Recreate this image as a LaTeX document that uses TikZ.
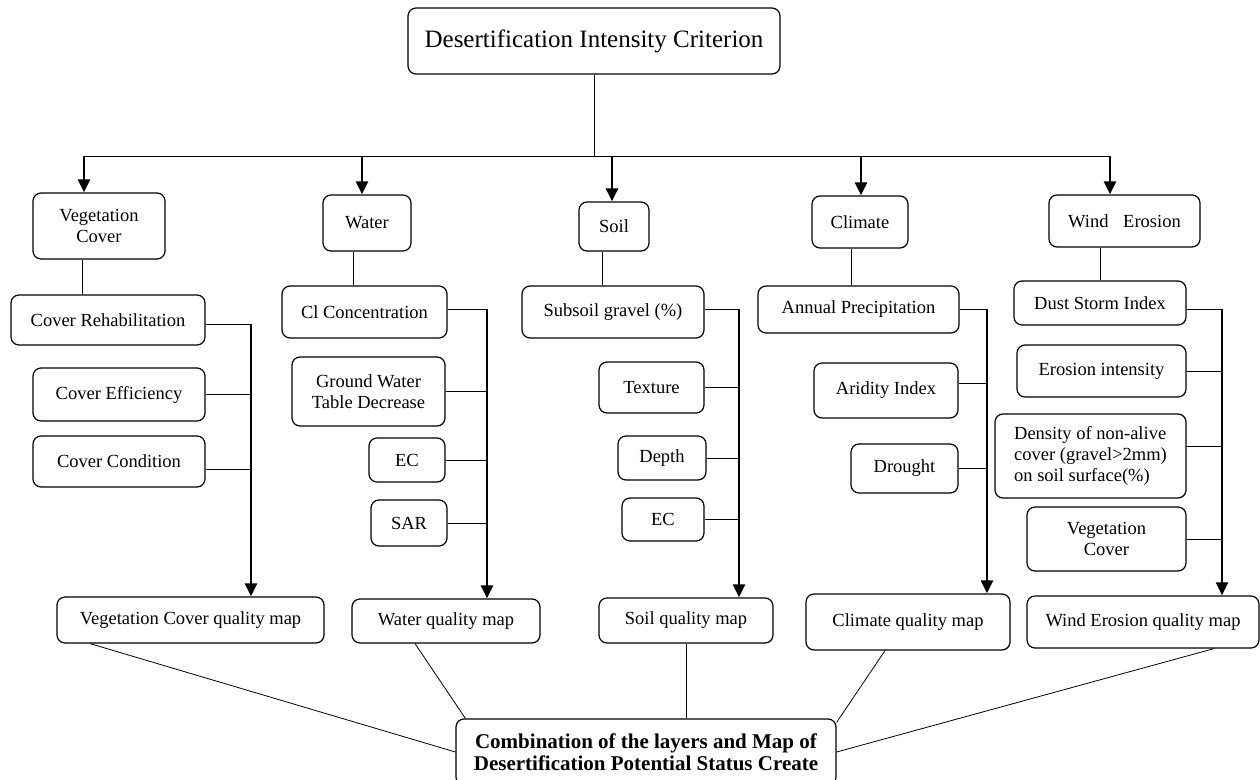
\documentclass[tikz,border=0pt]{standalone}
\usepackage{fontspec}
\setmainfont{Liberation Serif}
\usetikzlibrary{arrows.meta}

\begin{document}
\begin{tikzpicture}[x=1pt,y=-1pt,
  box/.style={draw,rounded corners=8pt,line width=1.2pt,align=center,inner sep=0pt,
    font=\fontsize{18.5}{21}\selectfont},
  link/.style={line width=0.8pt},
  bus/.style={line width=2.6pt,-{Triangle[width=12pt,length=13pt]}}]
\useasboundingbox (0,0) rectangle (1260,779);

% criterion and the five layers
\node[box,minimum width=372pt,minimum height=66pt,font=\fontsize{25}{28}\selectfont] (crit) at (594,41) {Desertification Intensity Criterion};
\node[box,minimum width=132pt,minimum height=66pt] (veg) at (99,226) {Vegetation\\Cover};
\node[box,minimum width=88pt,minimum height=56pt] (wat) at (367,223) {Water};
\node[box,minimum width=70pt,minimum height=49pt] (soil) at (614,226.5) {Soil};
\node[box,minimum width=96pt,minimum height=52pt] (clim) at (860,222) {Climate};
\node[box,minimum width=151pt,minimum height=52pt] (wind) at (1124.5,221) {Wind\hspace{10pt} Erosion};

\coordinate (av) at (84,156);
\coordinate (aw) at (362,156);
\coordinate (as) at (612,156);
\coordinate (ac) at (861,156);
\coordinate (ae) at (1110,156);
\draw[link] (crit.south) -- (crit.south |- av);
\draw[link] (av) -- (ae);
\foreach \a/\n in {av/veg,aw/wat,as/soil,ac/clim,ae/wind}
  \draw[bus] (\a) -- (\a |- \n.north);

% vegetation cover
\node[box,minimum width=194pt,minimum height=50pt] (covreh) at (108,320) {Cover Rehabilitation};
\node[box,minimum width=172pt,minimum height=53pt] (coveff) at (119,394.5) {Cover Efficiency};
\node[box,minimum width=172pt,minimum height=51pt] (covcond) at (119,461.5) {Cover Condition};
\node[box,minimum width=267pt,minimum height=46pt] (vmap) at (190.5,620) {Vegetation Cover quality map};

% water
\node[box,minimum width=165pt,minimum height=52pt] (cl) at (364.5,312) {Cl Concentration};
\node[box,minimum width=153pt,minimum height=69pt] (gwt) at (368.5,391.5) {Ground Water\\Table Decrease};
\node[box,minimum width=76pt,minimum height=44pt] (ecw) at (407,460) {EC};
\node[box,minimum width=76pt,minimum height=46pt] (sar) at (409,523) {SAR};
\node[box,minimum width=188pt,minimum height=44pt] (wmap) at (446,621) {Water quality map};

% soil
\node[box,minimum width=182pt,minimum height=52pt] (gravel) at (613,312) {Subsoil gravel (\%)};
\node[box,minimum width=105pt,minimum height=51pt] (texture) at (651.5,387.5) {Texture};
\node[box,minimum width=88pt,minimum height=44pt] (depth) at (662,458) {Depth};
\node[box,minimum width=82pt,minimum height=43pt] (ecs) at (663,519.5) {EC};
\node[box,minimum width=174pt,minimum height=45pt] (smap) at (686,620.5) {Soil quality map};

% climate
\node[box,minimum width=201pt,minimum height=47pt] (precip) at (858.5,309.5) {Annual Precipitation};
\node[box,minimum width=144pt,minimum height=55pt] (aridity) at (886,390.5) {Aridity Index};
\node[box,minimum width=107pt,minimum height=49pt] (drought) at (904.5,468.5) {Drought};
\node[box,minimum width=204pt,minimum height=56pt] (cmap) at (908,622) {Climate quality map};

% wind erosion
\node[box,minimum width=172pt,minimum height=44pt] (dust) at (1100,303) {Dust Storm Index};
\node[box,minimum width=169pt,minimum height=52pt] (erosion) at (1101.5,371) {Erosion intensity};
\node[box,minimum width=191pt,minimum height=84pt,align=left] (density) at (1090.5,456) {Density of non-alive\\cover (gravel>2mm)\\on soil surface(\%)};
\node[box,minimum width=159pt,minimum height=64pt] (vegcov) at (1106.5,539) {Vegetation\\Cover};
\node[box,minimum width=232pt,minimum height=52pt] (emap) at (1143,622) {Wind Erosion quality map};

% layers down to first factor
\draw[link] ([xshift=-17pt]veg.south) -- ([xshift=-17pt]veg.south |- covreh.north);
\draw[link] ([xshift=-14pt]wat.south) -- ([xshift=-14pt]wat.south |- cl.north);
\draw[link] ([xshift=-12pt]soil.south) -- ([xshift=-12pt]soil.south |- gravel.north);
\draw[link] ([xshift=-9pt]clim.south) -- ([xshift=-9pt]clim.south |- precip.north);
\draw[link] ([xshift=-24.5pt]wind.south) -- ([xshift=-24.5pt]wind.south |- dust.north);

% collecting lines
\coordinate (vbus) at (251,324);
\coordinate (wbus) at (487,309);
\coordinate (sbus) at (739,309);
\coordinate (cbus) at (987,309);
\coordinate (ebus) at (1222,309);

\draw[link] (covreh.east |- vbus) -- (vbus);
\draw[link] (coveff.east) -- (coveff.east -| vbus);
\draw[link] ([yshift=-8pt]covcond.east) -- ([yshift=-8pt]covcond.east -| vbus);
\draw[bus] (vbus) -- (vbus |- vmap.north);

\draw[link] (cl.east |- wbus) -- (wbus);
\draw[link] (gwt.east) -- (gwt.east -| wbus);
\draw[link] (ecw.east) -- (ecw.east -| wbus);
\draw[link] (sar.east) -- (sar.east -| wbus);
\draw[bus] (wbus) -- (wbus |- wmap.north);

\draw[link] (gravel.east |- sbus) -- (sbus);
\draw[link] (texture.east) -- (texture.east -| sbus);
\draw[link] (depth.east) -- (depth.east -| sbus);
\draw[link] (ecs.east) -- (ecs.east -| sbus);
\draw[bus] (sbus) -- (sbus |- smap.north);

\draw[link] (precip.east |- cbus) -- (cbus);
\draw[link] ([yshift=7pt]aridity.east) -- ([yshift=7pt]aridity.east -| cbus);
\draw[link] (drought.east) -- (drought.east -| cbus);
\draw[bus] (cbus) -- (cbus |- cmap.north);

\draw[link] (dust.east |- ebus) -- (ebus);
\draw[link] (erosion.east) -- (erosion.east -| ebus);
\draw[link] ([yshift=10pt]density.east) -- ([yshift=10pt]density.east -| ebus);
\draw[link] (vegcov.east) -- (vegcov.east -| ebus);
\draw[bus] (ebus) -- (ebus |- emap.north);

% combination
\node[box,minimum width=380pt,minimum height=66pt,font=\bfseries\fontsize{21}{22}\selectfont] (comb) at (646,752) {Combination of the layers and Map of\\Desertification Potential Status Create};
\draw[link] ([xshift=-100.5pt]vmap.south) -- (comb.west);
\draw[link] ([xshift=-31pt]wmap.south) -- ([xshift=10pt]comb.north west);
\draw[link] (smap.south) -- (smap.south |- comb.north);
\draw[link] ([xshift=-23pt]cmap.south) -- ([yshift=-4pt]comb.north east);
\draw[link] ([xshift=71pt]emap.south) -- (comb.east);
\end{tikzpicture}
\end{document}
